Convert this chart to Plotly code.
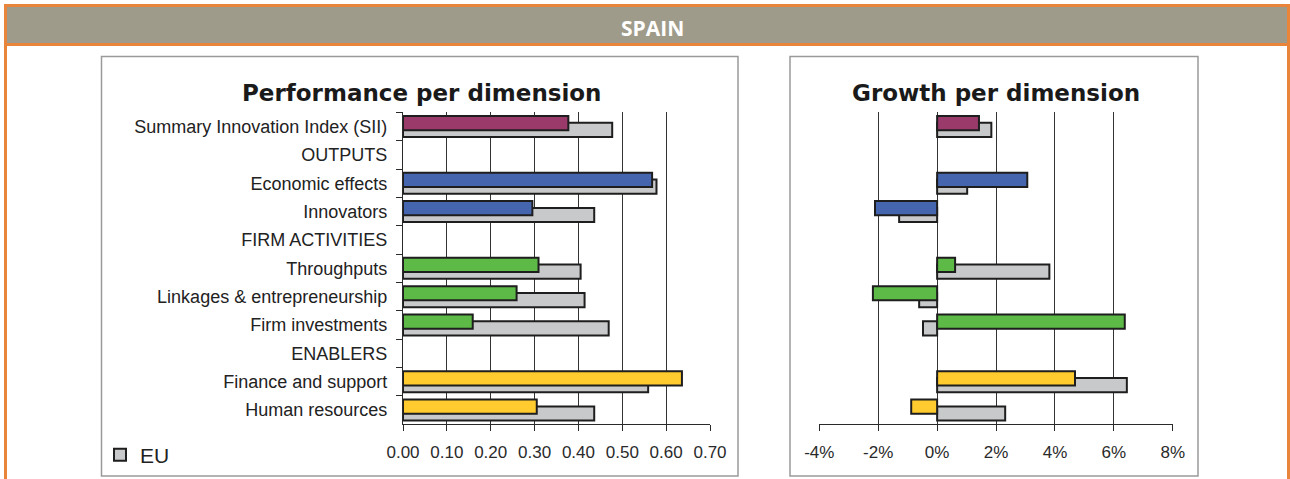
import plotly.graph_objects as go

# ---- data ----
categories = [
    "Summary Innovation Index (SII)",
    "OUTPUTS",
    "Economic effects",
    "Innovators",
    "FIRM ACTIVITIES",
    "Throughputs",
    "Linkages & entrepreneurship",
    "Firm investments",
    "ENABLERS",
    "Finance and support",
    "Human resources",
]
perf_spain = [0.377, None, 0.568, 0.295, None, 0.309, 0.259, 0.159, None, 0.636, 0.305]
perf_eu = [0.477, None, 0.578, 0.436, None, 0.405, 0.414, 0.469, None, 0.559, 0.436]
growth_spain = [1.42, None, 3.06, -2.11, None, 0.61, -2.18, 6.37, None, 4.68, -0.88]
growth_eu = [1.84, None, 1.02, -1.29, None, 3.81, -0.61, -0.48, None, 6.44, 2.31]
growth_ticks = [-4, -2, 0, 2, 4, 6, 8]
growth_ticktext = ["-4%", "-2%", "0%", "2%", "4%", "6%", "8%"]

PURPLE, BLUE, GREEN, YELLOW, GREY = "#993a6b", "#4565af", "#5dba46", "#ffcb2e", "#c8c9ca"
bar_colors = [PURPLE, "#ffffff", BLUE, BLUE, "#ffffff", GREEN, GREEN, GREEN, "#ffffff", YELLOW, YELLOW]

W, H = 1290, 479
def X(px):
    return px / W
def Y(py):
    return 1 - py / H

EDGE = dict(color="#1e1e1e", width=2)
BW = 0.5
OFF_C, OFF_EU = -0.37, -0.13

fig = go.Figure()

# Performance chart
fig.add_trace(go.Bar(y=categories, x=perf_eu, orientation="h", name="EU",
                     marker=dict(color=GREY, line=EDGE), width=BW, offset=OFF_EU,
                     xaxis="x", yaxis="y", showlegend=True, hoverinfo="x+y"))
fig.add_trace(go.Bar(y=categories, x=perf_spain, orientation="h", name="Spain",
                     marker=dict(color=bar_colors, line=EDGE), width=BW, offset=OFF_C,
                     xaxis="x", yaxis="y", showlegend=False, hoverinfo="x+y"))
# Growth chart
fig.add_trace(go.Bar(y=categories, x=growth_eu, orientation="h", name="EU",
                     marker=dict(color=GREY, line=EDGE), width=BW, offset=OFF_EU,
                     xaxis="x2", yaxis="y2", showlegend=False, hoverinfo="x+y"))
fig.add_trace(go.Bar(y=categories, x=growth_spain, orientation="h", name="Spain",
                     marker=dict(color=bar_colors, line=EDGE), width=BW, offset=OFF_C,
                     xaxis="x2", yaxis="y2", showlegend=False, hoverinfo="x+y"))

ydom = [Y(424.3), Y(112.3)]
GRID = "#333333"
AX = "#2a2a2a"
tickfont = dict(family="Liberation Sans, Arial, sans-serif", size=17, color="#2a2a2a")

fig.update_layout(
    template="none",
    width=W, height=H, autosize=False,
    margin=dict(l=0, r=0, t=0, b=0, pad=0, autoexpand=False),
    paper_bgcolor="white", plot_bgcolor="white",
    barmode="overlay",
    xaxis=dict(domain=[X(403), X(710)], range=[0, 0.7], dtick=0.1, tick0=0,
               tickformat=".2f", showgrid=True, gridcolor=GRID, gridwidth=1.2,
               showline=True, linecolor=AX, linewidth=1.3, ticks="outside",
               ticklen=6, tickcolor=AX, tickfont=tickfont, ticklabelstandoff=6,
               zeroline=False, anchor="y", fixedrange=True, automargin=False),
    yaxis=dict(domain=ydom, type="category", categoryorder="array",
               categoryarray=categories, range=[10.5, -0.5],
               showline=True, linecolor=AX, linewidth=1.3, ticks="outside",
               tickson="boundaries", ticklen=6, tickcolor=AX,
               tickfont=dict(family="Liberation Sans, Arial, sans-serif", size=18, color="#222222"),
               ticklabelstandoff=11, showgrid=False, zeroline=False, anchor="x",
               fixedrange=True, automargin=False),
    xaxis2=dict(domain=[X(819.3), X(1172.8)], range=[-4, 8],
                tickmode="array", tickvals=growth_ticks, ticktext=growth_ticktext,
                showgrid=True, gridcolor=GRID, gridwidth=1.2,
                showline=True, linecolor=AX, linewidth=1.3, ticks="outside",
                ticklen=6, tickcolor=AX, tickfont=tickfont, ticklabelstandoff=6,
                zeroline=False, anchor="y2", fixedrange=True, automargin=False),
    yaxis2=dict(domain=ydom, type="category", categoryorder="array",
                categoryarray=categories, range=[10.5, -0.5],
                showline=False, ticks="", showticklabels=False, showgrid=False,
                zeroline=False, anchor="x2", fixedrange=True, automargin=False),
    legend=dict(x=X(100), y=Y(455), xanchor="left", yanchor="middle",
                font=dict(family="Liberation Sans, Arial, sans-serif", size=21, color="#222222"),
                bgcolor="rgba(0,0,0,0)", borderwidth=0, itemwidth=30),
    showlegend=True,
)

ORANGE = "#e8853a"
BAND = "#9f9b8a"
PANEL = "#9a9a9a"
shapes = [
    dict(type="rect", xref="paper", yref="paper", x0=X(5.5), x1=X(1288.5), y0=Y(44.5), y1=Y(5.5),
         fillcolor=BAND, line=dict(width=0), layer="below"),
    dict(type="line", xref="paper", yref="paper", x0=X(4), x1=X(1290), y0=Y(5.5), y1=Y(5.5),
         line=dict(color=ORANGE, width=3)),
    dict(type="line", xref="paper", yref="paper", x0=X(4), x1=X(1290), y0=Y(44.5), y1=Y(44.5),
         line=dict(color=ORANGE, width=3)),
    dict(type="line", xref="paper", yref="paper", x0=X(5.5), x1=X(5.5), y0=Y(4), y1=Y(479),
         line=dict(color=ORANGE, width=3)),
    dict(type="line", xref="paper", yref="paper", x0=X(1288.5), x1=X(1288.5), y0=Y(4), y1=Y(479),
         line=dict(color=ORANGE, width=3)),
    dict(type="rect", xref="paper", yref="paper", x0=X(101.5), x1=X(738), y0=Y(476), y1=Y(56.5),
         line=dict(color=PANEL, width=1.5), fillcolor="rgba(0,0,0,0)", layer="below"),
    dict(type="rect", xref="paper", yref="paper", x0=X(790), x1=X(1198), y0=Y(476), y1=Y(56.5),
         line=dict(color=PANEL, width=1.5), fillcolor="rgba(0,0,0,0)", layer="below"),
]
fig.update_layout(shapes=shapes)

fig.add_annotation(text="<b>SPAIN</b>", xref="paper", yref="paper", x=X(652), y=Y(28),
                   xanchor="center", yanchor="middle", showarrow=False,
                   font=dict(family="Open Sans, sans-serif", size=21, color="white"))
fig.add_annotation(text="<b>Performance per dimension</b>", xref="paper", yref="paper",
                   x=X(422), y=Y(92.5), xanchor="center", yanchor="middle", showarrow=False,
                   font=dict(family="DejaVu Sans, Verdana, sans-serif", size=23, color="#1a1a1a"))
fig.add_annotation(text="<b>Growth per dimension</b>", xref="paper", yref="paper",
                   x=X(995.5), y=Y(92.5), xanchor="center", yanchor="middle", showarrow=False,
                   font=dict(family="DejaVu Sans, Verdana, sans-serif", size=23, color="#1a1a1a"))

fig.write_html("out.html", config={"displayModeBar": False, "responsive": False},
               post_script="document.body.style.margin='0';")
